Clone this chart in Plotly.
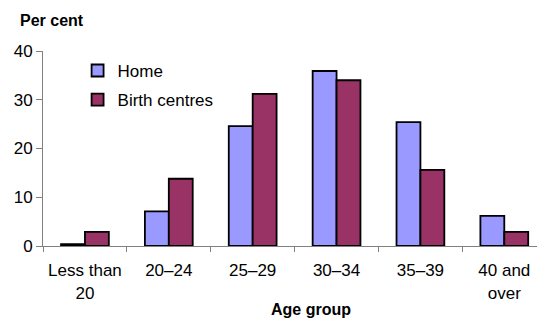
import plotly.graph_objects as go

categories = ["Less than<br>20", "20–24", "25–29", "30–34", "35–39", "40 and<br>over"]
home = [0.4, 7.1, 24.6, 35.9, 25.4, 6.2]
birth_centres = [2.9, 13.8, 31.2, 34.0, 15.6, 2.9]
y_ticks = [0, 10, 20, 30, 40]

fig = go.Figure()
fig.add_trace(go.Bar(name="Home", x=categories, y=home, legendgroup="a",
                     marker=dict(color="#9999FF", line=dict(color="black", width=1.8))))
fig.add_trace(go.Bar(name="Birth centres", x=categories, y=birth_centres, legendgroup="b",
                     marker=dict(color="#993366", line=dict(color="black", width=1.8))))

fig.update_layout(
    width=537, height=318,
    margin=dict(l=43, r=0, t=51, b=72),
    paper_bgcolor="white", plot_bgcolor="white",
    font=dict(family="Liberation Sans, Arial, sans-serif", size=17, color="black"),
    barmode="group", bargap=0.43, bargroupgap=0,
    showlegend=True,
    legend=dict(x=0.07, y=0.99, xanchor="left", yanchor="top",
                bgcolor="rgba(0,0,0,0)", font=dict(size=17), itemwidth=30,
                tracegroupgap=4),
    xaxis=dict(range=[-0.5, 5.39], showline=True, linecolor="#808080", linewidth=1,
               ticks="outside", tickson="boundaries", ticklen=5, tickcolor="#808080",
               showgrid=False, automargin=False, ticklabelstandoff=9),
    yaxis=dict(range=[0, 40], tickvals=y_ticks, showline=True, linecolor="#808080",
               linewidth=1, ticks="outside", ticklen=6, tickcolor="#808080",
               showgrid=False, zeroline=False, automargin=False),
    annotations=[
        dict(text="<b>Per cent</b>", xref="paper", yref="paper",
             x=-0.051, y=1.154, xanchor="left", yanchor="middle",
             showarrow=False, font=dict(size=16)),
        dict(text="<b>Age group</b>", xref="paper", yref="paper",
             x=0.5435, y=-0.328, xanchor="center", yanchor="middle",
             showarrow=False, font=dict(size=16)),
    ],
)

fig.write_html("out.html", config={"displayModeBar": False},
               post_script="document.body.style.margin='0';")
